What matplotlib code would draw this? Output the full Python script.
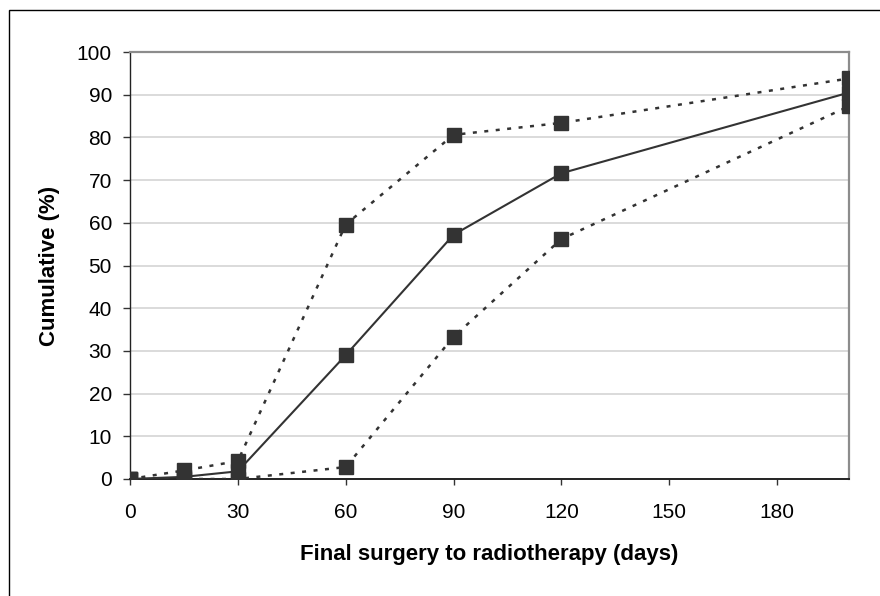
import matplotlib
matplotlib.use('Agg')
import matplotlib.pyplot as plt
from matplotlib.patches import Rectangle

# days from final surgery to radiotherapy
days = [0, 15, 30, 60, 90, 120, 200]
# cumulative percentage, middle line and the two dotted bounds
middle = [0, 0.5, 1.8, 29, 57.2, 71.6, 90.5]
upper = [0, 2, 4.2, 59.6, 80.6, 83.4, 93.8]
lower = [0, 0, 0, 2.8, 33.3, 56.2, 87.3]

x_ticks = [0, 30, 60, 90, 120, 150, 180]
y_ticks = list(range(0, 101, 10))

plt.rcParams['font.family'] = ['Liberation Sans', 'DejaVu Sans']

fig = plt.figure(figsize=(8.8, 5.96), dpi=100)
ax = fig.add_axes([130 / 880, 1 - 479 / 596, (849 - 130) / 880, (479 - 52) / 596])

# chart frame (left and top edges visible, rest runs off the picture)
top = 1 - 10 / 596
fig.patches.append(Rectangle((9 / 880, -0.2), 1.5, top + 0.2,
                             transform=fig.transFigure, fill=False,
                             edgecolor='black', linewidth=1.0))

col = '#333333'
ax.plot(days, upper, color=col, linewidth=1.8, linestyle=(0, (1.6, 3.0)),
        marker='s', markersize=9.5, markerfacecolor=col, markeredgecolor=col, zorder=3)
ax.plot(days, lower, color=col, linewidth=1.8, linestyle=(0, (1.6, 3.0)),
        marker='s', markersize=9.5, markerfacecolor=col, markeredgecolor=col, zorder=3)
ax.plot(days, middle, color=col, linewidth=1.5, linestyle='-',
        marker='s', markersize=9.5, markerfacecolor=col, markeredgecolor=col, zorder=4)

ax.set_xlim(0, 200)
ax.set_ylim(0, 100)
ax.set_xticks(x_ticks)
ax.set_yticks(y_ticks)
ax.yaxis.grid(True, color='#d4d4d4', linewidth=1.2)
ax.set_axisbelow(True)

ax.tick_params(axis='x', direction='out', length=4, width=1, color='#333333',
               labelsize=15, pad=13)
ax.tick_params(axis='y', direction='out', length=5, width=1, color='#333333',
               labelsize=15, pad=8)

for s in ['top', 'right']:
    ax.spines[s].set_color('#8c8c8c')
    ax.spines[s].set_linewidth(1.6)
ax.spines['left'].set_color('#222222')
ax.spines['left'].set_linewidth(1.0)
ax.spines['bottom'].set_color('#222222')
ax.spines['bottom'].set_linewidth(1.4)

ax.set_xlabel('Final surgery to radiotherapy (days)', fontsize=16, fontweight='bold',
              labelpad=16)
ax.set_ylabel('Cumulative (%)', fontsize=16, fontweight='bold', labelpad=12)

fig.savefig('out.png', dpi=100)
